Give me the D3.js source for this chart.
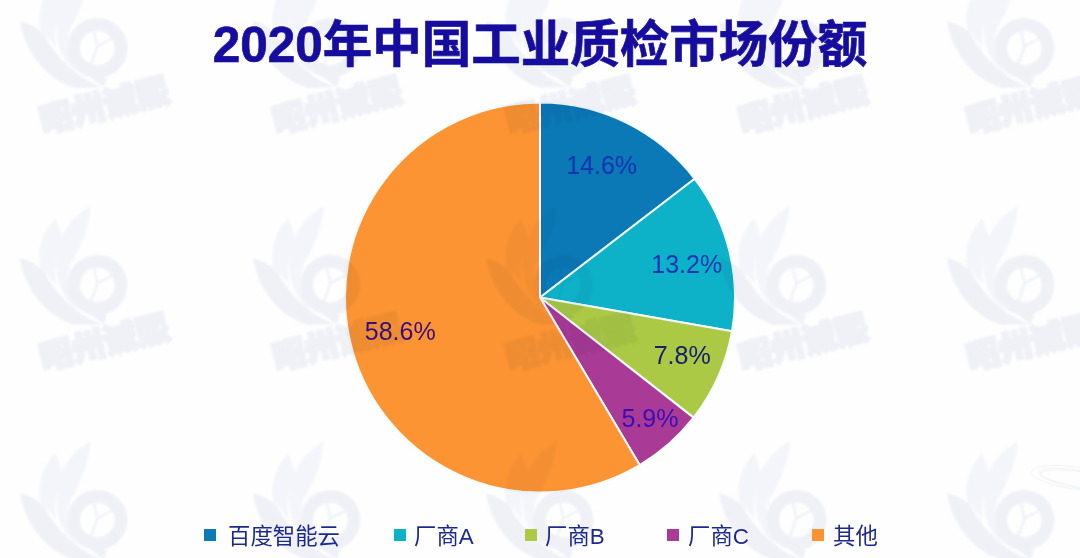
<!DOCTYPE html>
<html><head><meta charset="utf-8">
<script src="https://cdn.jsdelivr.net/npm/d3@7/dist/d3.min.js"></script>
<style>
html,body{margin:0;padding:0;background:#fff;overflow:hidden}
svg{display:block}
text{font-family:"Liberation Sans","Noto Sans CJK SC",sans-serif}
</style></head><body>
<script>
const chartTitle = "2020年中国工业质检市场份额";
const categories = ["百度智能云","厂商A","厂商B","厂商C","其他"];
const shares = [14.6,13.2,7.8,5.9,58.6];
const shareLabels = ["14.6%","13.2%","7.8%","5.9%","58.6%"];
const sliceColors = ["#0a79b5","#0db2c9","#abc944","#a93a96","#fd9433"];
const labelColors = ["#1530b4","#1535b4","#16206e","#3a10b4","#3a1080"];
const labelRadii = [145,150,154,168,145];
const labelNudgeX = [-2.5,1,1.5,-1,0];
const labelNudgeY = [-2,2.5,-5,-5,-4.5];
const legendSwatchX = [204,394,525,667,812];
const legendTextX = [228,414,545,688,833];
const watermarkColumns = [0,233,466,699,927];
const watermarkRows = [-237,0,235];
const watermarkName = "昭州诚熙";

const W=1080,H=558;
const svg=d3.select("body").append("svg").attr("width",W).attr("height",H);
const defs=svg.append("defs");
defs.append("filter").attr("id","soft").attr("x","-10%").attr("y","-10%").attr("width","120%").attr("height","120%")
  .append("feGaussianBlur").attr("stdDeviation",0.9);
defs.append("filter").attr("id","crisp").attr("x","-5%").attr("y","-20%").attr("width","110%").attr("height","140%")
  .append("feGaussianBlur").attr("stdDeviation",0.5);
svg.append("rect").attr("width",W).attr("height",H).attr("fill","#fefeff");

const cx=540,cy=297.5,R=195;
const pie=d3.pie().sort(null).value(d=>d)(shares);
const arc=d3.arc().innerRadius(0).outerRadius(R);
const gPie=svg.append("g").attr("transform",`translate(${cx},${cy})`);
gPie.selectAll("path").data(pie).join("path")
  .attr("d",arc).attr("fill",(d,i)=>sliceColors[i])
  .attr("stroke","#f4fbfb").attr("stroke-width",2).attr("stroke-linejoin","round");

// watermark, multiplied over everything
const wm=svg.append("g").style("mix-blend-mode","multiply").attr("filter","url(#soft)");
const wmColor="#f0f2f7";
const wmLight="#f5f6fa";
watermarkColumns.forEach(dx=>watermarkRows.forEach((dy,rowIndex)=>{
  const g=wm.append("g").attr("transform",`translate(${20+dx},${200+dy})`);
  const s=g.append("g").attr("transform","scale(0.3333)");
  s.append("path").attr("d","M0,175 C15,270 80,350 165,375 L248,372 C175,350 110,285 72,215 C50,192 25,180 0,175Z").attr("fill",wmColor);
  s.append("path").attr("d","M105,55 C65,100 50,150 62,205 C82,222 98,240 108,255 C100,190 112,150 128,120 C122,100 115,75 105,55Z").attr("fill",wmLight);
  s.append("path").attr("d","M212,18 C160,50 122,90 110,165 C104,235 125,295 175,335 C150,290 135,245 150,195 C178,150 208,90 212,18Z").attr("fill",wmLight);
  s.append("path").attr("fill",wmColor).attr("fill-rule","evenodd")
   .attr("d","M232,165 a90,90 0 1,0 0.1,0Z M232,203 a52,52 0 1,1 -0.1,0Z");
  s.append("path").attr("d","M200,335 L262,345 L250,372Z").attr("fill",wmColor);
  s.append("path").attr("d","M222,205 L232,250 L212,308 M232,250 L280,225").attr("stroke",wmColor).attr("stroke-width",7).attr("fill","none");
  if(rowIndex<2) g.append("text").text(watermarkName).attr("transform","translate(87,154) rotate(-14)")
   .attr("text-anchor","middle").attr("font-size",33).attr("font-weight",900)
   .attr("stroke",wmColor).attr("stroke-width",3).attr("fill",wmColor);
}));

// faint swoosh, bottom right
const sw=svg.append("g").attr("fill","none").attr("stroke","#f1f3f5").attr("stroke-width",1);
[[1075,478,44,11,8],[1082,480,44,9,10],[1090,481,50,8,9]].forEach(e=>
  sw.append("ellipse").attr("transform",`translate(${e[0]},${e[1]}) rotate(${e[4]})`).attr("rx",e[2]).attr("ry",e[3]));

// slice labels
const labelArc=(d,i)=>d3.arc().innerRadius(labelRadii[i]).outerRadius(labelRadii[i]).centroid(d);
gPie.selectAll("text").data(pie).join("text")
  .text((d,i)=>shareLabels[i])
  .attr("transform",(d,i)=>{const p=labelArc(d,i);return `translate(${p[0]+labelNudgeX[i]},${p[1]+labelNudgeY[i]})`;})
  .attr("text-anchor","middle").attr("dy","0.35em")
  .attr("font-size",25).attr("fill",(d,i)=>labelColors[i]).attr("filter","url(#crisp)");

// title
svg.append("text").text(chartTitle).attr("x",540).attr("y",62)
  .attr("text-anchor","middle").attr("font-size",49.5).attr("font-weight",700)
  .attr("fill","#160f9f").attr("stroke","#160f9f").attr("stroke-width",0.7).attr("filter","url(#crisp)");

// legend
const lg=svg.append("g").attr("filter","url(#crisp)");
categories.forEach((c,i)=>{
  lg.append("rect").attr("x",legendSwatchX[i]).attr("y",529).attr("width",12).attr("height",12).attr("fill",sliceColors[i]);
  lg.append("text").text(c).attr("x",legendTextX[i]).attr("y",543.5).attr("font-size",22.4).attr("fill","#1d2b8f");
});
</script>
</body></html>
